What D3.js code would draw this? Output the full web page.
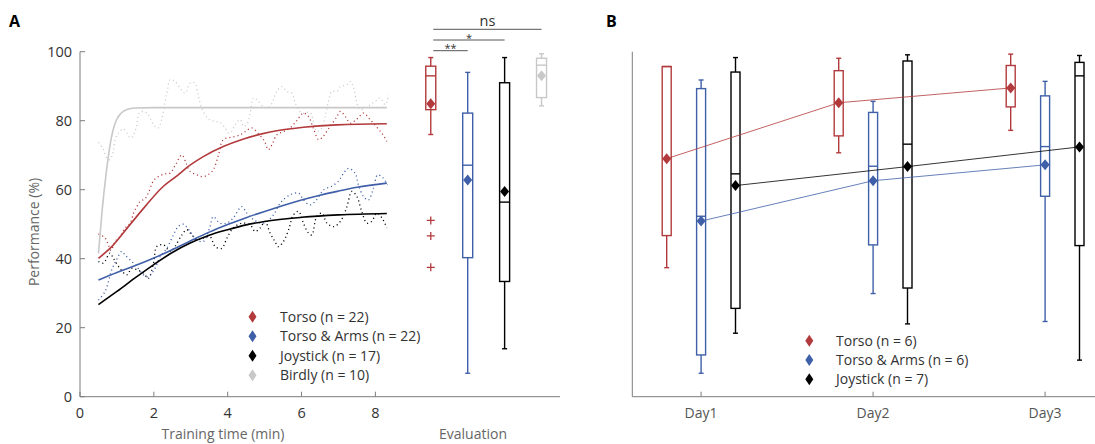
<!DOCTYPE html>
<html>
<head>
<meta charset="utf-8">
<script src="https://cdn.jsdelivr.net/npm/d3@7"></script>
<style>
  body { margin: 0; background: #fff; }
  text { font-family: "Open Sans", sans-serif; }
</style>
</head>
<body>
<script>
// ---- data: panel A learning curves (time in min, performance %) ----
var torsoRaw = [[0.5,47.2],[0.68,46],[0.77,44],[0.84,42.4],[0.95,45],[1.08,46.4],[1.22,48.9],[1.36,50.3],[1.45,53.2],
  [1.54,55.1],[1.63,56.6],[1.76,57.4],[1.85,59],[1.99,62.6],[2.12,63.8],[2.3,64.6],[2.44,64.8],[2.6,67.5],[2.76,70.1],
  [2.88,67.5],[2.98,65.3],[3.15,64.4],[3.3,63.8],[3.45,64.2],[3.61,65.8],[3.75,70],[3.88,74.5],[4.1,75.2],[4.34,75.9],
  [4.5,77],[4.65,77.9],[4.85,76],[5.0,74],[5.1,71.6],[5.22,73.5],[5.33,75.9],[5.5,76.8],[5.69,77.9],[5.87,80],[6.05,82.2],
  [6.19,81.2],[6.33,77.5],[6.46,74.5],[6.55,75],[6.75,78],[6.96,81.2],[7.05,82.7],[7.2,81],[7.32,79.3],[7.5,80.5],
  [7.68,82.2],[7.86,80.3],[8.05,78],[8.2,76],[8.31,74]];
var armsRaw = [[0.5,28],[0.68,30.5],[0.77,33.4],[0.86,36.8],[0.99,39.7],[1.13,42.1],[1.22,41.1],[1.4,39.2],[1.54,37.7],
  [1.72,35.3],[1.85,34.8],[2.03,37.2],[2.17,40.6],[2.35,43],[2.53,46.9],[2.66,49.3],[2.8,50],[2.98,47.9],[3.16,45.5],
  [3.34,45],[3.52,49.3],[3.61,52.2],[3.79,50.3],[3.98,50.3],[4.15,51.8],[4.38,55.1],[4.52,53.2],[4.7,51.3],[4.97,50.3],
  [5.24,52.7],[5.42,56.1],[5.69,58.5],[5.92,59],[6.05,57.1],[6.23,55.6],[6.41,57.1],[6.6,60],[6.82,61],[7.0,62.5],
  [7.14,64.8],[7.27,66.2],[7.45,64.8],[7.54,61.4],[7.68,58],[7.81,57],[7.95,60.5],[8.06,64.3],[8.2,63.5],[8.33,61.4]];
var joyRaw = [[0.5,39.2],[0.63,38.7],[0.81,41.6],[0.9,40.2],[1.08,37.2],[1.27,35.3],[1.4,37.2],[1.54,36.8],[1.72,35.8],
  [1.85,34.3],[1.99,38.7],[2.08,43.5],[2.26,44],[2.44,42.1],[2.57,43.5],[2.76,46.9],[2.89,48.4],[3.03,46.9],[3.16,45.5],
  [3.34,46],[3.52,46.4],[3.66,43.5],[3.84,43],[3.98,46],[4.15,48.9],[4.38,50.3],[4.61,49.8],[4.74,47.9],[4.88,48.9],
  [5.01,50.8],[5.15,47.4],[5.28,45],[5.37,43.5],[5.51,45],[5.65,48.4],[5.78,52.7],[5.92,53.7],[6.05,50.3],[6.19,47.4],
  [6.28,46.9],[6.41,52.2],[6.55,53.2],[6.69,50.3],[6.87,49.3],[7.05,50.8],[7.23,55.1],[7.36,59.5],[7.5,58],[7.63,53.7],
  [7.77,50.3],[7.9,50.8],[8.04,53.2],[8.18,51.8],[8.31,48.9]];
var birdlyRaw = [[0.5,73.7],[0.63,71.8],[0.72,69.2],[0.81,68.7],[0.9,71.1],[0.95,74.5],[1.04,76.4],[1.17,77.6],[1.27,76.4],
  [1.36,75],[1.44,75.6],[1.54,78.8],[1.6,82.2],[1.72,82.7],[1.85,81.7],[1.99,78.8],[2.12,77.9],[2.21,80.3],[2.3,85.1],
  [2.37,89],[2.44,91.9],[2.57,91.4],[2.71,89.5],[2.85,88],[2.98,90.9],[3.1,91],[3.21,87],[3.3,83.5],[3.48,80.5],
  [3.66,79.8],[3.79,79.5],[3.93,77.9],[4.02,76.4],[4.11,76.9],[4.2,78.8],[4.34,80.3],[4.43,78.3],[4.52,79],[4.61,82.2],
  [4.7,86.6],[4.83,85.6],[4.97,84],[5.1,83.8],[5.2,85.1],[5.33,88.5],[5.47,89.9],[5.6,88.5],[5.74,88],[5.83,85.1],
  [6.01,82.2],[6.23,82.4],[6.41,76.9],[6.55,77.9],[6.64,81.2],[6.73,85.6],[6.82,88.5],[6.96,88.5],[7.05,89.9],
  [7.23,90.4],[7.32,91.4],[7.41,89.5],[7.5,85.1],[7.59,83.2],[7.72,83.7],[7.86,84.6],[7.99,85.6],[8.13,86.6],
  [8.27,84.6],[8.36,87.5]];

// fitted curves
var torsoFit = [[0.5,40.1],[0.86,43.5],[1.31,49.3],[1.76,55.1],[2.21,60.5],[2.66,64.3],[2.89,66.4],[3.34,69.6],
  [3.88,72.5],[4.43,74.7],[5.15,76.7],[6.05,78.1],[6.96,78.8],[8.31,79.1]];
var armsFit = [[0.5,33.8],[1,36],[1.5,38],[2,40.2],[2.5,42.6],[3,45.2],[3.5,47.7],[4,49.9],[4.5,51.9],[5,53.7],
  [5.5,55.4],[6,57],[6.5,58.4],[7,59.6],[7.5,60.7],[8.31,61.9]];
var joyFit = [[0.5,26.7],[1,30.5],[1.5,34.5],[2,38.3],[2.5,41.8],[3,44.6],[3.5,46.8],[4,48.4],[4.5,49.8],[5,50.8],
  [6,52],[7,52.7],[8.31,53.1]];
var birdlyFit = [[0.5,41.5],[0.6,54],[0.7,64],[0.8,72],[0.9,77.5],[1.0,80.5],[1.1,82],[1.25,83.2],[1.5,83.7],
  [2,83.8],[8.31,83.8]];

// evaluation boxplots (panel A, right part)
var evalGroups = ['Torso', 'Torso & Arms', 'Joystick', 'Birdly'];
var evalPos = [9.5, 10.5, 11.5, 12.5];
var evalStats = [
  {min: 76.0, q1: 83.2, med: 93.0, q3: 95.8, max: 98.3, mean: 84.9},
  {min: 6.8, q1: 40.3, med: 67.1, q3: 82.2, max: 94.0, mean: 62.8},
  {min: 13.9, q1: 33.4, med: 56.4, q3: 91.0, max: 98.3, mean: 59.5},
  {min: 84.3, q1: 86.7, med: 96.1, q3: 98.1, max: 99.4, mean: 93.0}
];
var torsoOutliers = [51.1, 46.6, 37.5];
var sigLabels = ['**', '*', 'ns'];
var sigEnds = [10.5, 11.5, 12.5];

var legendA = ['Torso (n = 22)', 'Torso & Arms (n = 22)', 'Joystick (n = 17)', 'Birdly (n = 10)'];

// ---- data: panel B, per day ----
var days = ['Day1', 'Day2', 'Day3'];
var torsoDays = [
  {min: 37.4, q1: 46.7, med: 95.7, q3: 95.7, max: 95.7, mean: 69.0},
  {min: 70.7, q1: 75.6, med: 85.2, q3: 94.5, max: 98.1, mean: 85.2},
  {min: 77.2, q1: 84.0, med: 89.5, q3: 96.0, max: 99.3, mean: 89.5}
];
var armsDays = [
  {min: 6.8, q1: 12.1, med: 52.3, q3: 89.3, max: 91.8, mean: 50.9},
  {min: 29.9, q1: 44.0, med: 66.8, q3: 82.4, max: 85.6, mean: 62.6},
  {min: 21.8, q1: 58.1, med: 72.5, q3: 87.2, max: 91.4, mean: 67.2}
];
var joyDays = [
  {min: 18.4, q1: 25.6, med: 64.6, q3: 94.1, max: 98.3, mean: 61.2},
  {min: 21.1, q1: 31.5, med: 73.2, q3: 97.3, max: 99.1, mean: 66.7},
  {min: 10.6, q1: 43.8, med: 93.0, q3: 96.9, max: 98.9, mean: 72.4}
];
var legendB = ['Torso (n = 6)', 'Torso & Arms (n = 6)', 'Joystick (n = 7)'];

var RED = '#b23a3c', BLUE = '#3f5fa8', BLACK = '#000', GREY = '#c8c8c8';
var AXIS = '#7d7d7d', TXT = '#333';

var svg = d3.select('body').append('svg')
  .attr('width', 1095).attr('height', 444);

var y = d3.scaleLinear().domain([0, 100]).range([396.7, 51.7]);

function diamond(w, h) {
  return 'M0,' + (-h) + 'L' + w + ',0L0,' + h + 'L' + (-w) + ',0Z';
}

function drawBox(g, cx, s, color, bw) {
  var half = bw / 2;
  g.append('line').attr('x1', cx).attr('x2', cx).attr('y1', y(s.q3)).attr('y2', y(s.max))
    .attr('stroke', color).attr('stroke-width', 1.4);
  g.append('line').attr('x1', cx).attr('x2', cx).attr('y1', y(s.q1)).attr('y2', y(s.min))
    .attr('stroke', color).attr('stroke-width', 1.4);
  [s.min, s.max].forEach(function(v) {
    if(v === s.q3) return;
    g.append('line').attr('x1', cx - 2.5).attr('x2', cx + 2.5).attr('y1', y(v)).attr('y2', y(v))
      .attr('stroke', color).attr('stroke-width', 1.4);
  });
  g.append('rect').attr('x', cx - half).attr('width', bw)
    .attr('y', y(s.q3)).attr('height', y(s.q1) - y(s.q3))
    .attr('fill', 'none').attr('stroke', color).attr('stroke-width', 1.4);
  g.append('line').attr('x1', cx - half).attr('x2', cx + half).attr('y1', y(s.med)).attr('y2', y(s.med))
    .attr('stroke', color).attr('stroke-width', 1.4);
  g.append('path').attr('d', diamond(4.5, 5.5))
    .attr('transform', 'translate(' + cx + ',' + y(s.mean) + ')')
    .attr('fill', color);
}

// ================= Panel A =================
var xA = d3.scaleLinear().domain([0, 13]).range([80, 560]);
var gA = svg.append('g');

// axes
gA.append('line').attr('x1', 80).attr('x2', 560).attr('y1', y(0)).attr('y2', y(0))
  .attr('stroke', AXIS).attr('stroke-width', 1);
gA.append('line').attr('x1', 80).attr('x2', 80).attr('y1', y(0)).attr('y2', y(100))
  .attr('stroke', AXIS).attr('stroke-width', 1);

var yTicks = [0, 20, 40, 60, 80, 100];
yTicks.forEach(function(t) {
  gA.append('line').attr('x1', 80).attr('x2', 85).attr('y1', y(t)).attr('y2', y(t))
    .attr('stroke', AXIS);
  gA.append('text').attr('x', 72).attr('y', y(t)).attr('dy', '0.35em')
    .attr('text-anchor', 'end').attr('font-size', 14.5).attr('fill', TXT).text(t);
});
var xTicks = [0, 2, 4, 6, 8];
xTicks.forEach(function(t) {
  gA.append('line').attr('x1', xA(t)).attr('x2', xA(t)).attr('y1', y(0)).attr('y2', y(0) - 5)
    .attr('stroke', AXIS);
  gA.append('text').attr('x', xA(t)).attr('y', 413).attr('dy', '0.35em')
    .attr('text-anchor', 'middle').attr('font-size', 14.5).attr('fill', TXT).text(t);
});

gA.append('text').attr('transform', 'translate(39,232) rotate(-90)')
  .attr('text-anchor', 'middle').attr('font-size', 14).attr('fill', '#666').text('Performance (%)');
gA.append('text').attr('x', 223).attr('y', 439)
  .attr('text-anchor', 'middle').attr('font-size', 14).attr('fill', '#666').text('Training time (min)');
gA.append('text').attr('x', 473).attr('y', 439)
  .attr('text-anchor', 'middle').attr('font-size', 14).attr('fill', '#666').text('Evaluation');

svg.append('text').attr('x', 9).attr('y', 27).attr('font-size', 16).attr('font-weight', 'bold')
  .attr('fill', '#000').text('A');

// curves
var rawLine = d3.line().curve(d3.curveCatmullRom)
  .x(function(d) { return xA(d[0]); }).y(function(d) { return y(d[1]); });
var fitLine = d3.line().curve(d3.curveMonotoneX)
  .x(function(d) { return xA(d[0]); }).y(function(d) { return y(d[1]); });

var rawSets = [
  {data: birdlyRaw, color: '#cccccc'},
  {data: torsoRaw, color: RED},
  {data: joyRaw, color: BLACK},
  {data: armsRaw, color: BLUE}
];
rawSets.forEach(function(s) {
  gA.append('path').attr('d', rawLine(s.data))
    .attr('fill', 'none').attr('stroke', s.color).attr('stroke-width', 1.3)
    .attr('stroke-dasharray', '1.1,3');
});

var fitSets = [
  {data: birdlyFit, color: GREY},
  {data: torsoFit, color: RED},
  {data: armsFit, color: BLUE},
  {data: joyFit, color: BLACK}
];
fitSets.forEach(function(s) {
  gA.append('path').attr('d', fitLine(s.data))
    .attr('fill', 'none').attr('stroke', s.color).attr('stroke-width', 1.6);
});

// evaluation boxes
var evalColors = [RED, BLUE, BLACK, GREY];
evalStats.forEach(function(s, i) {
  drawBox(gA, xA(evalPos[i]), s, evalColors[i], 10);
});
torsoOutliers.forEach(function(v) {
  var cx = xA(evalPos[0]), cy = y(v);
  gA.append('path').attr('d', 'M' + (cx - 4) + ',' + cy + 'H' + (cx + 4) + 'M' + cx + ',' + (cy - 4) + 'V' + (cy + 4))
    .attr('stroke', RED).attr('stroke-width', 1.3);
});

// significance brackets
var sigY = [50.7, 40, 29.3];
sigLabels.forEach(function(lab, i) {
  var x1 = xA(evalPos[0]) + 2.5, x2 = xA(sigEnds[i]);
  gA.append('line').attr('x1', x1).attr('x2', x2).attr('y1', sigY[i]).attr('y2', sigY[i])
    .attr('stroke', '#555').attr('stroke-width', 1);
  gA.append('text').attr('x', (x1 + x2) / 2).attr('y', lab === 'ns' ? sigY[i] - 3.5 : sigY[i] + 1.5)
    .attr('text-anchor', 'middle').attr('font-size', lab === 'ns' ? 14.5 : 11)
    .attr('fill', '#333').text(lab);
});

// legend A
var legColorsA = [RED, BLUE, BLACK, GREY];
legendA.forEach(function(lab, i) {
  var ly = 316.7 + i * 19.5;
  gA.append('path').attr('d', diamond(4, 6)).attr('transform', 'translate(252.5,' + ly + ')')
    .attr('fill', legColorsA[i]);
  gA.append('text').attr('x', 280).attr('y', ly).attr('dy', '0.35em')
    .attr('font-size', 14).attr('fill', TXT).text(lab);
});

// ================= Panel B =================
var xB = d3.scaleLinear().domain([0.6, 3.3]).range([632.3, 1096.7]);
var gB = svg.append('g');

gB.append('line').attr('x1', 632.3).attr('x2', 1095).attr('y1', y(0)).attr('y2', y(0))
  .attr('stroke', AXIS);
gB.append('line').attr('x1', 632.3).attr('x2', 632.3).attr('y1', y(0)).attr('y2', y(100))
  .attr('stroke', AXIS);
days.forEach(function(d, i) {
  gB.append('line').attr('x1', xB(i + 1)).attr('x2', xB(i + 1)).attr('y1', y(0)).attr('y2', y(0) - 5)
    .attr('stroke', AXIS);
  gB.append('text').attr('x', xB(i + 1)).attr('y', 413).attr('dy', '0.35em')
    .attr('text-anchor', 'middle').attr('font-size', 14).attr('fill', '#555').text(d);
});
svg.append('text').attr('x', 606).attr('y', 27).attr('font-size', 16).attr('font-weight', 'bold')
  .attr('fill', '#000').text('B');

var groupsB = [
  {data: torsoDays, color: RED, off: -0.2},
  {data: armsDays, color: BLUE, off: 0},
  {data: joyDays, color: BLACK, off: 0.2}
];
groupsB.forEach(function(g) {
  g.data.forEach(function(s, i) {
    drawBox(gB, xB(i + 1 + g.off), s, g.color, 9);
  });
});
groupsB.forEach(function(g) {
  var meanLine = d3.line()
    .x(function(s, i) { return xB(i + 1 + g.off); })
    .y(function(s) { return y(s.mean); });
  gB.append('path').attr('d', meanLine(g.data))
    .attr('fill', 'none').attr('stroke', g.color).attr('stroke-width', 0.8);
});

var legColorsB = [RED, BLUE, BLACK];
legendB.forEach(function(lab, i) {
  var ly = 340.7 + i * 19.3;
  gB.append('path').attr('d', diamond(4, 6)).attr('transform', 'translate(809.3,' + ly + ')')
    .attr('fill', legColorsB[i]);
  gB.append('text').attr('x', 836).attr('y', ly).attr('dy', '0.35em')
    .attr('font-size', 14).attr('fill', TXT).text(lab);
});
</script>
</body>
</html>
